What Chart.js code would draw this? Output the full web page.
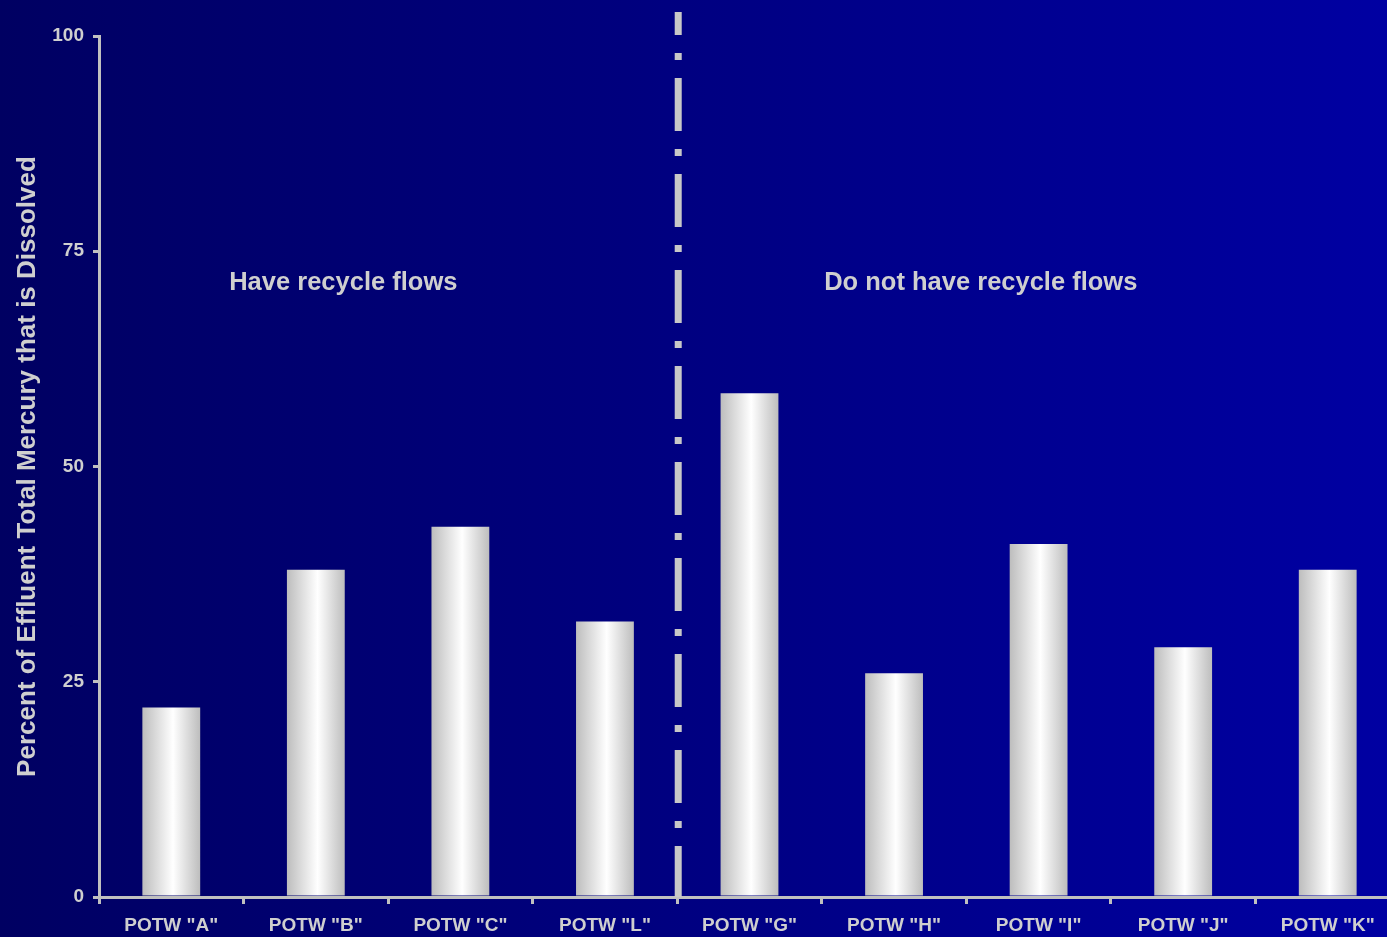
<!DOCTYPE html>
<html>
<head>
<meta charset="utf-8">
<script src="https://cdn.jsdelivr.net/npm/chart.js@4"></script>
<style>
  html, body { margin: 0; padding: 0; overflow: hidden; }
  body {
    width: 1387px; height: 937px;
    background: linear-gradient(90deg, #000062 0%, #00007e 45%, #0000a2 100%);
  }
  canvas { display: block; }
</style>
</head>
<body>
<canvas id="mainChart" width="1420" height="937"></canvas>
<script>
// 데이터
const categories = ['POTW "A"', 'POTW "B"', 'POTW "C"', 'POTW "L"', 'POTW "G"', 'POTW "H"', 'POTW "I"', 'POTW "J"', 'POTW "K"'];
const dissolvedPct = [22, 38, 43, 32, 58.5, 26, 41, 29, 38];
const yTicks = [0, 25, 50, 75, 100];
const groupLabels = ['Have recycle flows', 'Do not have recycle flows'];
const groupLabelX = [1.19, 5.6];   // category units
const groupLabelY = 71.3;
const dividerAt = 3.5;            // between "L" and "G"

const AXIS = '#c0c0c0';
const TEXT = '#cfcfcf';
const FONT = "'Liberation Sans', Arial, sans-serif";

function barGradient(context) {
    const chart = context.chart;
    if (!chart.chartArea || context.dataIndex === undefined) return '#e0e0e0';
    const xs = chart.scales.x;
    const cx = xs.getPixelForValue(context.dataIndex);
    const half = (xs.width / categories.length) * 0.4 / 2;
    const g = chart.ctx.createLinearGradient(cx - half, 0, cx + half, 0);
    g.addColorStop(0, '#bdbdbd');
    g.addColorStop(0.53, '#ffffff');
    g.addColorStop(1, '#bdbdbd');
    return g;
}

// ─── 구분선 + 그룹 라벨 ───
const overlay = {
    id: 'overlay',
    afterDatasetsDraw(chart) {
        const { ctx, scales: { x, y } } = chart;
        const px = (x.getPixelForValue(Math.floor(dividerAt)) + x.getPixelForValue(Math.ceil(dividerAt))) / 2 + 1;
        ctx.save();
        ctx.strokeStyle = '#c8c8c8';
        ctx.lineWidth = 7;
        ctx.setLineDash([53, 18, 7, 18]);
        ctx.lineDashOffset = 30;
        ctx.beginPath();
        ctx.moveTo(px, 12);
        ctx.lineTo(px, y.getPixelForValue(0));
        ctx.stroke();
        ctx.setLineDash([]);

        ctx.fillStyle = TEXT;
        ctx.font = `bold 25.5px ${FONT}`;
        ctx.textAlign = 'center';
        ctx.textBaseline = 'middle';
        groupLabels.forEach((t, i) => {
            const pos = groupLabelX[i];
            const i0 = Math.floor(pos);
            const p0 = x.getPixelForValue(i0);
            const p1 = x.getPixelForValue(i0 + 1);
            const tx = p0 + (p1 - p0) * (pos - i0);
            ctx.fillText(t, tx, y.getPixelForValue(groupLabelY));
        });
        ctx.restore();
    }
};

new Chart(document.getElementById('mainChart'), {
    type: 'bar',
    data: {
        labels: categories,
        datasets: [{
            data: dissolvedPct,
            backgroundColor: barGradient,
            borderWidth: 0,
            barPercentage: 0.4,
            categoryPercentage: 1.0,
        }]
    },
    options: {
        responsive: false,
        animation: false,
        devicePixelRatio: 1,
        layout: { padding: { top: 36, right: 20, left: 0, bottom: 0 } },
        plugins: { legend: { display: false }, tooltip: { enabled: false } },
        scales: {
            x: {
                grid: { display: true, drawOnChartArea: false, drawTicks: true, tickLength: 7, color: AXIS, lineWidth: 3, offset: true },
                border: { display: true, color: AXIS, width: 3 },
                ticks: { color: TEXT, font: { family: FONT, size: 19, weight: 'bold' }, padding: 10, maxRotation: 0, autoSkip: false },
                afterFit: (s) => { s.height = 40; },
            },
            y: {
                min: 0,
                max: 100,
                afterBuildTicks: (s) => { s.ticks = yTicks.map(v => ({ value: v })); },
                grid: { display: true, drawOnChartArea: false, drawTicks: true, tickLength: 6, color: AXIS, lineWidth: 3 },
                border: { display: true, color: AXIS, width: 3 },
                ticks: { color: TEXT, font: { family: FONT, size: 19, weight: 'bold' }, padding: 9 },
                title: {
                    display: true,
                    text: 'Percent of Effluent Total Mercury that is Dissolved',
                    color: TEXT,
                    font: { family: FONT, size: 26, weight: 'bold' },
                    padding: { top: 12, bottom: 0 },
                },
                afterFit: (s) => { s.width = 99; },
            }
        }
    },
    plugins: [overlay]
});
</script>
</body>
</html>
